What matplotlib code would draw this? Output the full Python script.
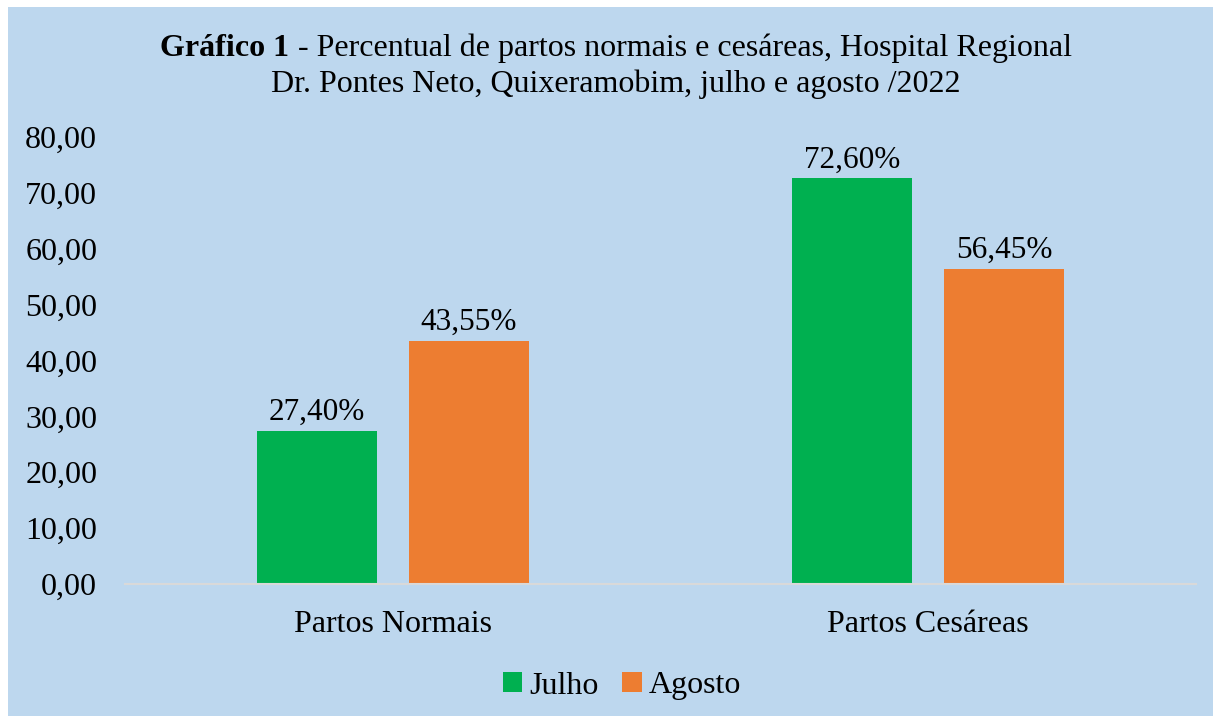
import matplotlib
matplotlib.use("Agg")
import matplotlib.pyplot as plt
from matplotlib.patches import Rectangle
import numpy as np

categories = ["Partos Normais", "Partos Cesáreas"]
series_names = ["Julho", "Agosto"]
julho = [27.40, 72.60]
agosto = [43.55, 56.45]
yticks = [0, 10, 20, 30, 40, 50, 60, 70, 80]

BG = "#BDD7EE"
GREEN = "#00B050"
ORANGE = "#ED7D31"
FONT = "Liberation Serif"

plt.rcParams["font.family"] = [FONT, "DejaVu Serif"]

W, H = 1213, 716
fig = plt.figure(figsize=(W / 100, H / 100), dpi=100, facecolor="white")
fig.patches.append(Rectangle((8 / W, 0), 1 - 8 / W, 1 - 7 / H, transform=fig.transFigure,
                             facecolor=BG, edgecolor="none", zorder=-10))

ax = fig.add_axes([125 / W, 1 - 584 / H, (1196 - 125) / W, (584 - 137) / H])
ax.set_facecolor("none")

x = np.arange(len(categories))
bw = 0.224
off = 0.142
b1 = ax.bar(x - off, julho, bw, color=GREEN, label=series_names[0], zorder=3)
b2 = ax.bar(x + off, agosto, bw, color=ORANGE, label=series_names[1], zorder=3)

for bars, vals in ((b1, julho), (b2, agosto)):
    for r, v in zip(bars, vals):
        ax.annotate(f"{v:.2f}%".replace(".", ","), (r.get_x() + r.get_width() / 2, v),
                    xytext=(0, 11), textcoords="offset pixels", ha="center", va="baseline",
                    fontsize=22.5, color="#000000")

ax.set_xlim(-0.5, 1.5)
ax.set_ylim(0, 80)
ax.set_yticks(yticks)
ax.set_yticklabels([f"{t:.2f}".replace(".", ",") for t in yticks], fontsize=23)
ax.set_xticks(x)
ax.set_xticklabels(categories, fontsize=23)
ax.tick_params(axis="both", length=0, colors="black")
ax.tick_params(axis="y", pad=20)
ax.tick_params(axis="x", pad=19)
for s in ("top", "right", "left"):
    ax.spines[s].set_visible(False)
ax.spines["bottom"].set_color("#D9D9D9")
ax.spines["bottom"].set_linewidth(1.5)
ax.spines["bottom"].set_zorder(4)

# Title with bold prefix
cx = 616 / W
renderer = fig.canvas.get_renderer()
t_bold = fig.text(0, 0, "Gráfico 1", fontsize=23, fontweight="bold", ha="left", va="center")
t_rest = fig.text(0, 0, " - Percentual de partos normais e cesáreas, Hospital Regional",
                  fontsize=23, ha="left", va="center")
wb = t_bold.get_window_extent(renderer).width
wr = t_rest.get_window_extent(renderer).width
total = wb + wr
x0 = 616 - total / 2
y1 = 1 - 48 / H
t_bold.set_position((x0 / W, y1))
t_rest.set_position(((x0 + wb) / W, y1))
fig.text(cx, 1 - 84 / H, "Dr. Pontes Neto, Quixeramobim, julho e agosto /2022",
         fontsize=23, ha="center", va="center")

leg = fig.legend(handles=[b1, b2], labels=series_names, loc="center", bbox_to_anchor=(622 / W, 1 - 686 / H),
                 ncol=2, frameon=False, fontsize=23, handlelength=0.6, handleheight=0.6,
                 handletextpad=0.22, columnspacing=0.75, borderpad=0, borderaxespad=0)

fig.savefig("out.png", dpi=100, facecolor="white")
